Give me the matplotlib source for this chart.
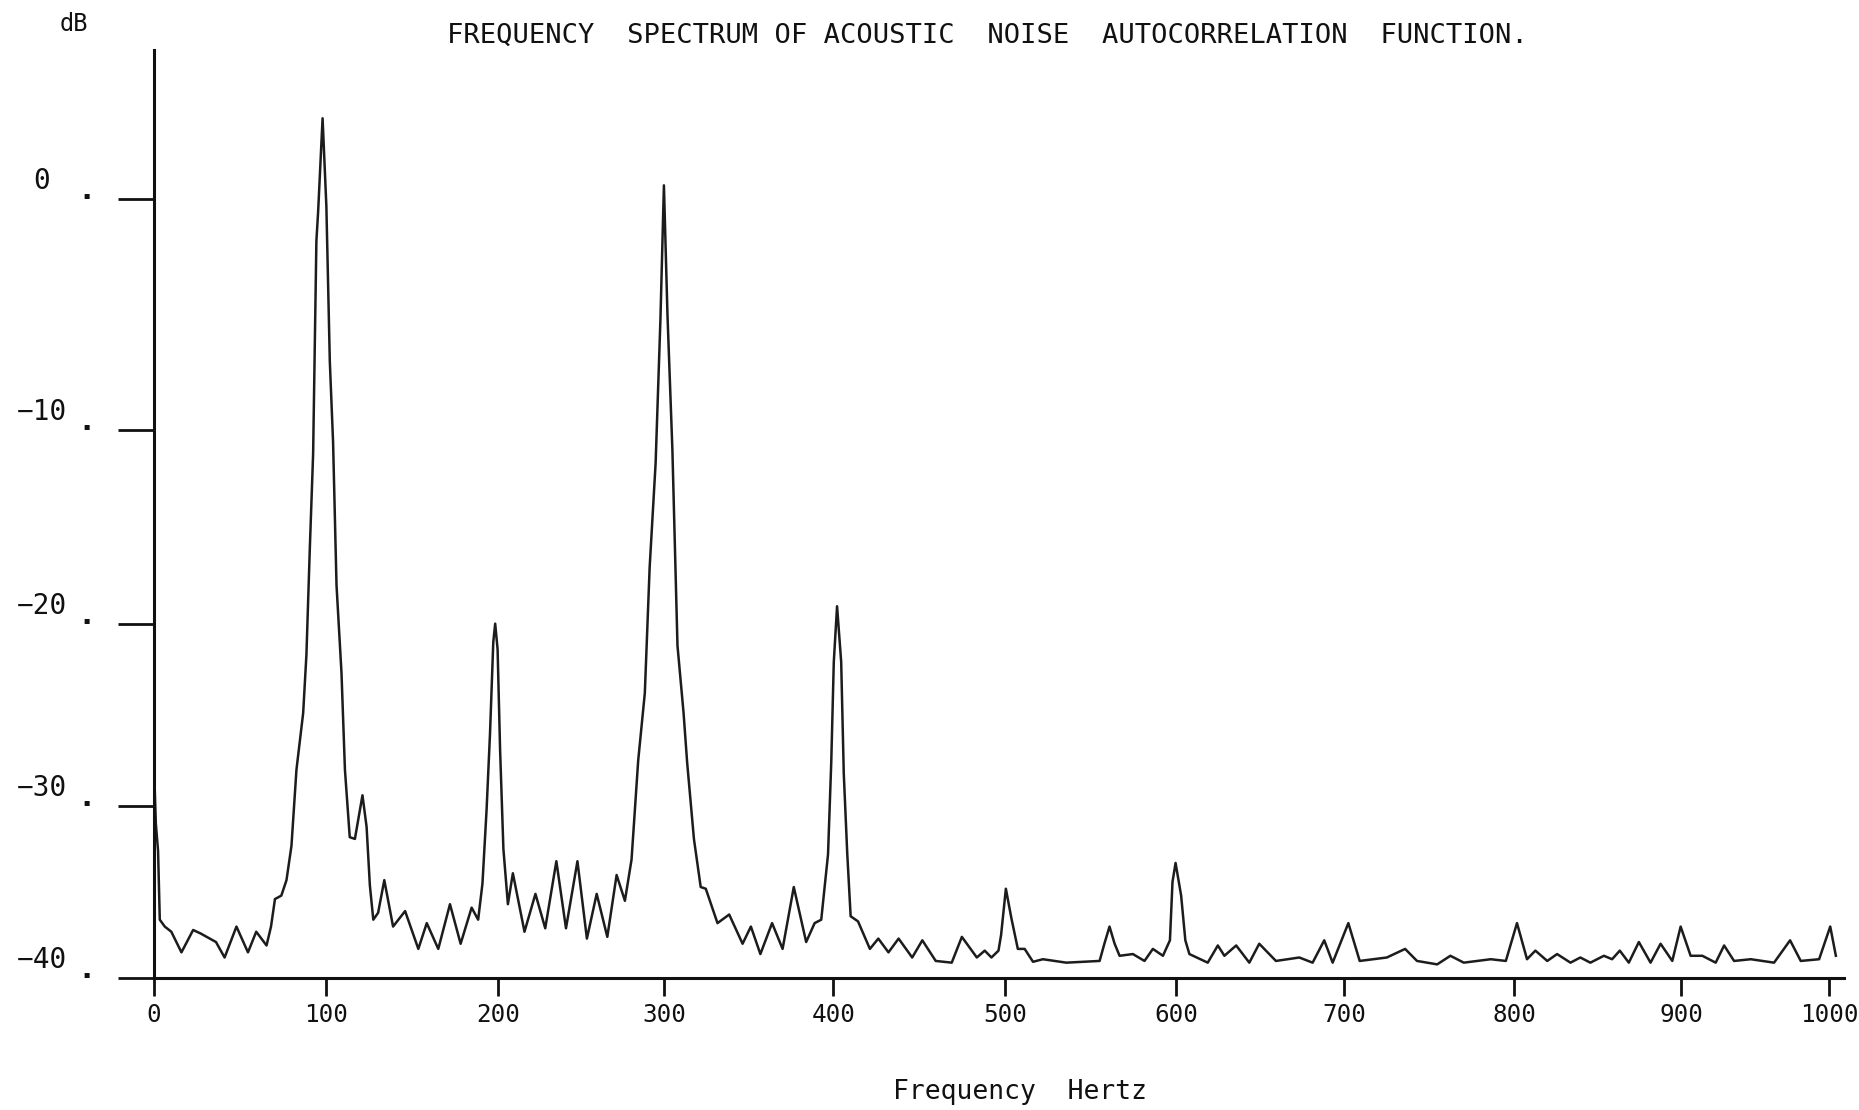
import numpy as np
import matplotlib
matplotlib.use("Agg")
import matplotlib.pyplot as plt

# --------------------------
# DATA
# --------------------------
freq_hz = [0, 1, 2.3, 3.3, 6.2, 10, 15.9, 22.7, 27, 32.4, 36, 41, 47.9, 54.6, 59.4, 65.4, 68, 70.3, 74, 77,
           79.9, 82.8, 86.7, 88.6, 90.5, 92.5, 94.4, 95.4, 98, 100.2, 102.2, 104.1, 106.1, 109, 111, 113.8,
           116.8, 121.2, 123.6, 125.5, 127.5, 130.3, 133.9, 139, 146, 153.7, 158.6, 165.3, 172.1, 178.3,
           184.7, 188.5, 191, 193.4, 195.4, 197.3, 198.4, 199.8, 201.3, 203.3, 206, 209, 216, 222.6, 228.5,
           235.2, 241, 247.9, 253.6, 259.5, 265.9, 271.5, 276.5, 280.5, 284.5, 288.5, 291.4, 295, 297.9,
           300, 302.1, 305, 308, 311.6, 313.7, 317.7, 321.7, 324.7, 331.6, 338.5, 346.4, 351.3, 356.9,
           363.8, 370, 376.6, 383.9, 388.9, 392.8, 396.8, 398.7, 400.2, 402.1, 404.5, 406, 408, 410, 414.3,
           421.2, 426.1, 432, 437.9, 445.8, 451.7, 459.5, 468.8, 474.7, 483.4, 488, 491.9, 496, 497.5,
           500.3, 503.5, 507.3, 511.3, 516.2, 522, 535.7, 555.2, 558, 561, 564, 566.9, 574.7, 581.5, 586.4,
           592.3, 596.4, 597.9, 599.7, 603, 605.5, 607.9, 618.8, 624.8, 628.7, 635.7, 643.5, 649.4, 659.3,
           673.2, 681.1, 688, 693, 702.3, 709, 725, 735.8, 742.8, 754.7, 762.5, 770.4, 786.3, 795.2,
           801.8, 807.8, 812.8, 819.9, 825.8, 833.8, 839.7, 845.7, 853.8, 858.7, 863.3, 868.7, 874.7,
           881.7, 887.7, 894.7, 899.7, 906.4, 914.3, 923.3, 929, 935.7, 947, 962.7, 973.5, 980.7, 993.1,
           1000.6, 1004.4]
level_db = [-28.0, -31.0, -32.6, -36.6, -37.0, -37.3, -38.5, -37.2, -37.4, -37.7, -37.9, -38.8, -37.0, -38.5,
            -37.3, -38.1, -37.0, -35.4, -35.2, -34.3, -32.3, -28.0, -24.9, -21.7, -16.3, -11.2, -1.8, -0.55,
            3.5, -0.3, -7.0, -10.6, -18.0, -22.7, -28.0, -31.8, -31.9, -29.4, -31.2, -34.6, -36.6, -36.2,
            -34.3, -37.0, -36.1, -38.3, -36.8, -38.3, -35.7, -38.0, -35.9, -36.6, -34.5, -30.2, -26.0, -21.0,
            -20.0, -21.4, -26.9, -32.5, -35.7, -33.9, -37.3, -35.1, -37.1, -33.2, -37.1, -33.2, -37.7, -35.1,
            -37.6, -34.0, -35.5, -33.1, -27.5, -23.8, -17.1, -11.7, -5.2, 0.6, -5.0, -11.0, -21.2, -24.9,
            -27.6, -31.9, -34.7, -34.8, -36.8, -36.3, -38.0, -37.0, -38.6, -36.8, -38.3, -34.7, -37.9, -36.8,
            -36.6, -32.8, -27.6, -22.1, -19.1, -22.1, -28.2, -32.7, -36.4, -36.7, -38.3, -37.7, -38.5, -37.7,
            -38.8, -37.8, -39.0, -39.1, -37.6, -38.8, -38.4, -38.8, -38.4, -37.5, -34.8, -36.5, -38.3, -38.3,
            -39.05, -38.9, -39.1, -39.0, -38.0, -37.0, -38.0, -38.7, -38.6, -39.0, -38.3, -38.7, -37.8, -34.4,
            -33.3, -35.2, -37.8, -38.6, -39.1, -38.1, -38.7, -38.1, -39.1, -38.0, -39.0, -38.8, -39.1, -37.8,
            -39.1, -36.8, -39.0, -38.8, -38.3, -39.0, -39.2, -38.7, -39.1, -38.9, -39.0, -36.8, -38.9, -38.4,
            -39.0, -38.6, -39.1, -38.8, -39.1, -38.7, -38.9, -38.4, -39.1, -37.9, -39.1, -38.0, -39.0, -37.0,
            -38.7, -38.7, -39.1, -38.1, -39.0, -38.9, -39.1, -37.8, -39.0, -38.9, -37.0, -38.7]

x_ticks = [0, 100, 200, 300, 400, 500, 600, 700, 800, 900, 1000]
y_ticks = [0, -10, -20, -30, -40]
y_tick_labels = ["0", "\u221210", "\u221220", "\u221230", "\u221240"]

# the pen plotter's axes were not evenly spaced, so calibrate
# the scales from where the ticks sit on the paper (pixels)
x_tick_px = [130, 275, 420, 560, 703, 848, 992, 1134, 1277, 1418, 1543]
y_tick_px = [168, 363, 526, 680, 825]


def piecewise(xp, fp):
    xp = np.asarray(xp, float)
    fp = np.asarray(fp, float)
    lo_slope = (fp[1] - fp[0]) / (xp[1] - xp[0])
    hi_slope = (fp[-1] - fp[-2]) / (xp[-1] - xp[-2])

    def f(v):
        v = np.asarray(v, float)
        out = np.interp(v, xp, fp)
        out = np.where(v < xp[0], fp[0] + (v - xp[0]) * lo_slope, out)
        out = np.where(v > xp[-1], fp[-1] + (v - xp[-1]) * hi_slope, out)
        return out
    return f


x_fwd = piecewise(x_ticks, x_tick_px)
x_inv = piecewise(x_tick_px, x_ticks)
yt = np.array(y_ticks[::-1], float)
ypx = -np.array(y_tick_px[::-1], float)
y_fwd = piecewise(yt, ypx)
y_inv = piecewise(ypx, yt)

# --------------------------
# FIGURE
# --------------------------
plt.rcParams["font.family"] = "DejaVu Sans Mono"

fig = plt.figure(figsize=(18.59, 11.10), dpi=100)
ax = fig.add_axes([0.0829, 0.1188, 0.9088, 0.8363])

ax.set_xscale("function", functions=(x_fwd, x_inv))
ax.set_yscale("function", functions=(y_fwd, y_inv))

ax.plot(freq_hz, level_db, color="#1c1c1c", linewidth=1.8, solid_joinstyle="round")

ax.set_xlim(0, float(x_inv(1555)))
ax.set_ylim(-40, float(y_inv(-42)))

for side in ["top", "right"]:
    ax.spines[side].set_visible(False)
for side in ["left", "bottom"]:
    ax.spines[side].set_linewidth(2.2)
    ax.spines[side].set_color("#111111")

ax.set_xticks(x_ticks)
ax.set_xticklabels([str(t) for t in x_ticks])
ax.minorticks_off()
ax.tick_params(axis="x", direction="out", length=13, width=2, labelsize=17.5, pad=5, colors="#111111")

ax.set_yticks(y_ticks)
ax.tick_params(axis="y", direction="out", length=26, width=2, labelleft=False, colors="#111111")

# y labels sit up and to the left of their ticks, with a dot
for val, lab in zip(y_ticks, y_tick_labels):
    ax.annotate(lab, xy=(0, val), xycoords=("axes fraction", "data"),
                xytext=(-112, 18), textcoords="offset pixels",
                ha="center", va="center", fontsize=20, color="#111111")
    ax.annotate(".", xy=(0, val), xycoords=("axes fraction", "data"),
                xytext=(-68, 0), textcoords="offset pixels",
                ha="center", va="baseline", fontsize=22, fontweight="bold", color="#111111")

fig.text(0.0396, 0.9786, "dB", fontsize=17, ha="center", va="center", color="#111111")
fig.text(0.531, 0.9679, "FREQUENCY  SPECTRUM OF ACOUSTIC  NOISE  AUTOCORRELATION  FUNCTION.",
         fontsize=19.5, ha="center", va="center", color="#111111")
fig.text(0.5485, 0.0164, "Frequency  Hertz", fontsize=19, ha="center", va="center", color="#111111")

fig.savefig("out.png", dpi=100, facecolor="white")
